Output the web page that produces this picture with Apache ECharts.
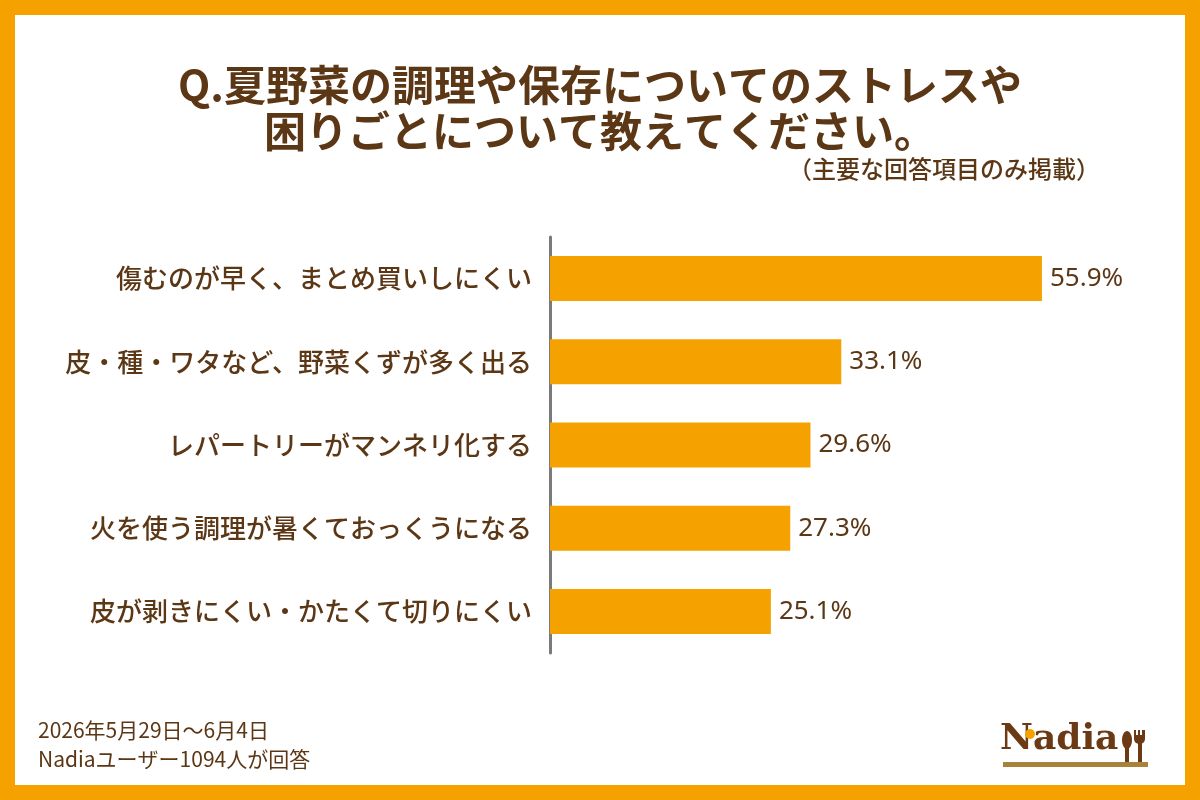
<!DOCTYPE html>
<html>
<head>
<meta charset="utf-8">
<script src="https://cdn.jsdelivr.net/npm/echarts@6/dist/echarts.min.js"></script>
<style>
html,body{margin:0;padding:0;background:#fff;}
#main{width:1200px;height:800px;}
</style>
</head>
<body>
<div id="main"></div>
<script>
const categories = [
  '傷むのが早く、まとめ買いしにくい',
  '皮・種・ワタなど、野菜くずが多く出る',
  'レパートリーがマンネリ化する',
  '火を使う調理が暑くておっくうになる',
  '皮が剥きにくい・かたくて切りにくい'
];
const values = [55.9, 33.1, 29.6, 27.3, 25.1];
const titleLines = ['Q.夏野菜の調理や保存についてのストレスや', '困りごとについて教えてください。'];
const subtitleText = '（主要な回答項目のみ掲載）';
const footerLines = ['2026年5月29日～6月4日', 'Nadiaユーザー1094人が回答'];

const ORANGE = '#F5A100';
const BROWN = '#5C3715';
const FONT = '"Noto Sans CJK JP", "Noto Sans", sans-serif';

const chart = echarts.init(document.getElementById('main'));
chart.setOption({
  backgroundColor: ORANGE,
  animation: false,
  textStyle: { fontFamily: FONT },
  grid: { left: 550, right: 122, top: 237, height: 416, containLabel: false },
  xAxis: { type: 'value', min: 0, max: 60, show: false },
  yAxis: {
    type: 'category',
    data: categories,
    inverse: true,
    axisLine: { show: true, lineStyle: { color: '#7a7a7a', width: 3 } },
    axisTick: { show: false },
    axisLabel: { color: BROWN, fontSize: 26, fontWeight: 500, margin: 18, fontFamily: FONT }
  },
  series: [{
    type: 'bar',
    data: values,
    barWidth: 45,
    itemStyle: { color: ORANGE },
    label: {
      show: true, position: 'right', distance: 8,
      formatter: '{c}%', color: BROWN, fontSize: 26,
      fontFamily: '"Noto Sans", sans-serif'
    }
  }],
  graphic: [
    { type: 'rect', z: -100, silent: true, shape: { x: 15, y: 15, width: 1170, height: 770 }, style: { fill: '#ffffff' } },
    { type: 'text', left: 'center', top: 62, style: { text: titleLines.join('\n'), fill: BROWN, font: 'bold 42px ' + FONT, lineHeight: 46, textAlign: 'center' } },
    { type: 'text', right: 100, top: 157, style: { text: subtitleText, fill: BROWN, font: '500 24px ' + FONT } },
    { type: 'text', left: 38, top: 716, style: { text: footerLines.join('\n'), fill: BROWN, font: '21px ' + FONT, lineHeight: 29 } },
    { type: 'text', left: 1000, top: 722, style: { text: 'Nadia', fill: '#6B3A14', font: 'bold 36px "DejaVu Serif", serif' } },
    { type: 'circle', shape: { cx: 1030, cy: 734, r: 5 }, style: { fill: ORANGE } },
    { type: 'ellipse', shape: { cx: 1127, cy: 740, rx: 5, ry: 9 }, style: { fill: '#6B3A14' } },
    { type: 'rect', shape: { x: 1125, y: 745, width: 4, height: 20 }, style: { fill: '#6B3A14' } },
    { type: 'rect', shape: { x: 1134, y: 730, width: 11, height: 14, r: [0, 0, 5, 5] }, style: { fill: '#6B3A14' } },
    { type: 'rect', shape: { x: 1138, y: 743, width: 4, height: 22 }, style: { fill: '#6B3A14' } },
    { type: 'rect', shape: { x: 1136, y: 729, width: 2, height: 6 }, style: { fill: '#ffffff' } },
    { type: 'rect', shape: { x: 1140, y: 729, width: 2, height: 6 }, style: { fill: '#ffffff' } },
    { type: 'rect', shape: { x: 1003, y: 762, width: 145, height: 5 }, style: { fill: '#A8813A' } }
  ]
});
</script>
</body>
</html>
